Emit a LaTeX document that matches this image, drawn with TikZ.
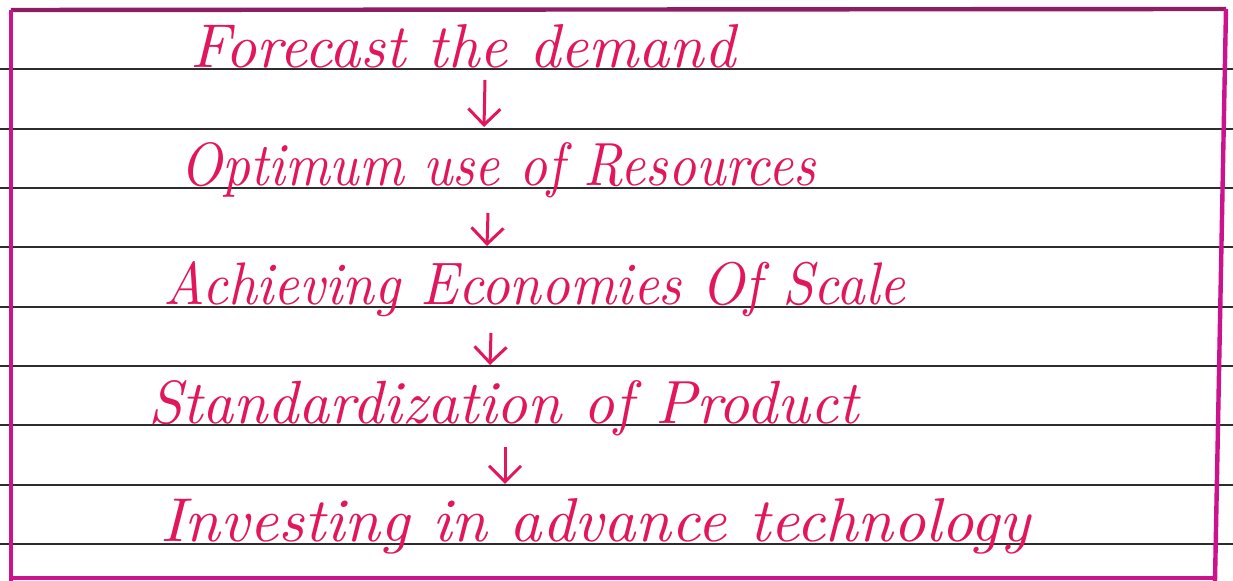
\documentclass[tikz,border=0pt]{standalone}
\usepackage{graphicx}
\usetikzlibrary{arrows.meta}
\definecolor{ink}{RGB}{226,22,92}
\definecolor{margin}{RGB}{204,18,140}
\definecolor{topmargin}{RGB}{140,30,100}
\definecolor{rule}{RGB}{45,45,45}
\begin{document}
\begin{tikzpicture}[x=0.5pt,y=-0.5pt,
  ruled/.style={draw=rule,line width=1pt},
  border/.style={draw=margin,line width=2.2pt},
  txt/.style={text=ink,inner sep=0pt,anchor=base west,font=\itshape},
  flow/.style={draw=ink,line width=1.5pt,-{Straight Barb[length=8pt,width=16pt,line width=1.5pt]}}]
\useasboundingbox (0,0) rectangle (1233,581);
\fill[white] (0,0) rectangle (1233,581);
% ruled notebook lines
\foreach \y in {69.3,128.6,188,247.3,306.6,366,425.3,484.6,544}
  \draw[ruled] (0,\y) -- (1233,\y);
% page margins
\draw[draw=topmargin,line width=2.2pt] (11,10) -- (1226,9);
\draw[border] (11,10) -- (11,581);
\draw[border] (1226,9) -- (1215,581);
\draw[border] (11,578) -- (1215,578);
% steps
\node[txt] (n1) at (190,68) {\resizebox{272.5pt}{21.5pt}{Forecast the demand}};
\node[txt] (n2) at (180,186) {\resizebox{317.5pt}{21.5pt}{Optimum use of Resources}};
\node[txt] (n3) at (163,305) {\resizebox{371pt}{21.5pt}{Achieving Economies Of Scale}};
\node[txt] (n4) at (148,424) {\resizebox{355pt}{21.5pt}{Standardization of Product}};
\node[txt] (n5) at (160,542) {\resizebox{435pt}{21.5pt}{Investing in advance technology}};
% arrow ends
\coordinate (a1s) at (485,80);  \coordinate (a1e) at (484,127);
\coordinate (a2s) at (488,213); \coordinate (a2e) at (487,246);
\coordinate (a3s) at (491,333); \coordinate (a3e) at (490,365);
\coordinate (a4s) at (505,447); \coordinate (a4e) at (505,484);
\draw[flow] (a1s) -- (a1e);
\draw[flow] (a2s) -- (a2e);
\draw[flow] (a3s) -- (a3e);
\draw[flow] (a4s) -- (a4e);
\end{tikzpicture}
\end{document}
